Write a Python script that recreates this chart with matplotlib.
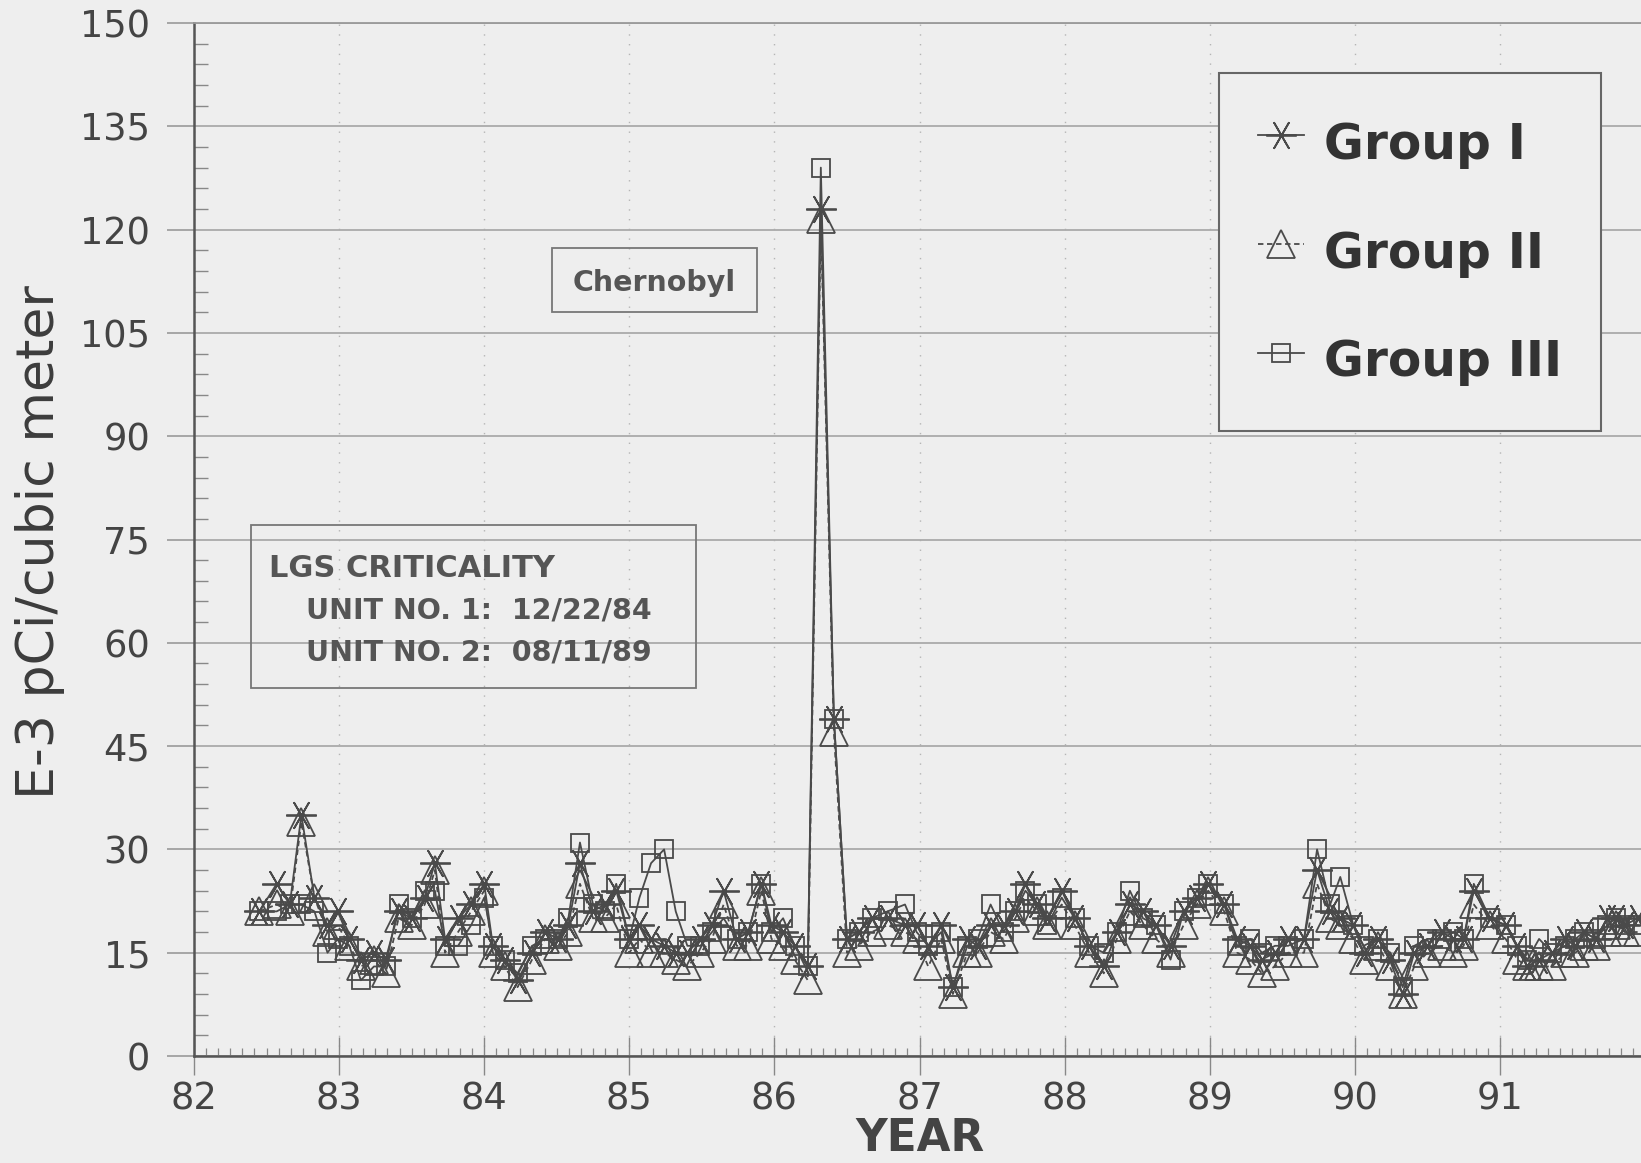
import matplotlib.pyplot as plt
from matplotlib.ticker import MultipleLocator
from matplotlib.patches import Rectangle

# sample dates (decimal year, 19xx) and concentrations, E-3 pCi/cubic meter
years = [82.45, 82.57, 82.66, 82.74, 82.83, 82.92, 82.99, 83.07, 83.15, 83.24,
         83.32, 83.41, 83.50, 83.59, 83.66, 83.73, 83.82, 83.91, 84.00, 84.06,
         84.14, 84.23, 84.33, 84.42, 84.51, 84.58, 84.66, 84.75, 84.83, 84.91,
         85.00, 85.07, 85.15, 85.24, 85.32, 85.40, 85.49, 85.57, 85.65, 85.74,
         85.82, 85.91, 85.98, 86.06, 86.14, 86.23, 86.32, 86.41, 86.50, 86.58,
         86.67, 86.78, 86.90, 86.98, 87.06, 87.15, 87.23, 87.33, 87.40, 87.49,
         87.58, 87.66, 87.73, 87.81, 87.88, 87.98, 88.07, 88.17, 88.27, 88.36,
         88.45, 88.54, 88.63, 88.73, 88.82, 88.91, 88.99, 89.10, 89.19, 89.28,
         89.36, 89.45, 89.54, 89.65, 89.74, 89.83, 89.90, 89.99, 90.06, 90.16,
         90.24, 90.33, 90.41, 90.50, 90.60, 90.68, 90.75, 90.82, 90.93, 91.04,
         91.12, 91.19, 91.27, 91.36, 91.45, 91.52, 91.58, 91.66, 91.74, 91.80,
         91.86, 91.95]

group1 = [21, 25, 22, 35, 23, 19, 21, 17, 14, 15,
          14, 21, 20, 23, 28, 17, 20, 22, 25, 16,
          14, 11, 15, 18, 17, 19, 28, 21, 22, 24,
          17, 19, 17, 16, 15, 15, 17, 19, 24, 17,
          18, 25, 19, 18, 16, 13, 123, 49, 17, 18,
          20, 20, 19, 19, 16, 19, 10, 17, 16, 19,
          19, 21, 25, 22, 20, 24, 20, 16, 13, 18,
          22, 21, 19, 16, 21, 23, 25, 22, 17, 16,
          14, 15, 17, 17, 27, 21, 20, 19, 15, 17,
          14, 9, 15, 16, 18, 17, 17, 24, 20, 19,
          16, 13, 14, 15, 17, 16, 18, 17, 20, 20,
          19, 20]

group2 = [21, 22, 21, 34, 23, 18, 19, 16, 13, 14,
          12, 20, 19, 22, 27, 15, 18, 21, 24, 15,
          13, 10, 14, 17, 16, 18, 25, 20, 20, 22,
          15, 17, 15, 15, 14, 13, 15, 17, 22, 16,
          16, 24, 17, 16, 14, 11, 121.5, 47, 15, 16,
          18, 19, 18, 17, 13, 17, 9, 15, 15, 18,
          17, 20, 23, 21, 19, 22, 19, 15, 12, 17,
          21, 19, 17, 15, 19, 22, 24, 21, 15, 14,
          12, 13, 15, 15, 25, 20, 19, 17, 14, 16,
          13, 9, 13, 15, 16, 15, 16, 22, 19, 17,
          14, 13, 13, 13, 15, 15, 16, 16, 18, 19,
          18, 18]

group3 = [21, 21, 22, 22, 21, 15, 17, 16, 11, 13,
          13, 22, 20, 24, 24, 16, 16, 19, 23, 16,
          14, 12, 16, 17, 17, 20, 31, 22, 21, 25,
          17, 23, 28, 30, 21, 16, 16, 18, 20, 17,
          18, 25, 18, 20, 16, 13, 129, 49, 17, 18,
          20, 21, 22, 18, 16, 18, 10, 16, 17, 22,
          18, 21, 24, 22, 19, 23, 20, 16, 15, 18,
          24, 20, 19, 14, 21, 23, 25, 22, 16, 17,
          15, 16, 16, 17, 30, 22, 26, 19, 16, 17,
          15, 10, 16, 17, 17, 18, 17, 25, 20, 19,
          16, 14, 17, 15, 16, 17, 18, 17, 19, 20,
          19, 19]

labels = ['Group I', 'Group II', 'Group III']

bg = '#eeeeee'
ink = '#4a4a4a'

fig = plt.figure(figsize=(16.41, 11.63), dpi=100, facecolor=bg)
ax = fig.add_axes([194 / 1641, 107 / 1163, 1451 / 1641, 1033 / 1163])
ax.set_facecolor(bg)

asterisk = (6, 2, 90)
ax.plot(years, group1, color=ink, lw=1.3, marker=asterisk, ms=22, mew=1.3,
        mfc='none', label=labels[0], zorder=3)
ax.plot(years, group2, color=ink, lw=1.3, ls=(0, (3, 2)), marker='^', ms=20,
        mew=1.3, mfc='none', label=labels[1], zorder=3)
ax.plot(years, group3, color=ink, lw=1.3, marker='s', ms=13, mew=1.3,
        mfc='none', label=labels[2], zorder=3)

ax.set_xlim(82, 92)
ax.set_ylim(0, 150)
ax.xaxis.set_major_locator(MultipleLocator(1))
ax.xaxis.set_minor_locator(MultipleLocator(1 / 12))
ax.yaxis.set_major_locator(MultipleLocator(15))
ax.yaxis.set_minor_locator(MultipleLocator(3))
ax.set_xticks(range(82, 92))

ax.grid(axis='y', which='major', color='#aaaaaa', lw=1.3)
ax.grid(axis='x', which='major', color='#b5b5b5', lw=1.0, ls=(0, (1, 6)))

ax.tick_params(axis='y', which='major', direction='out', length=19.5, width=1.2,
               color='#999999', pad=12, labelsize=26.5, labelcolor='#444444')
ax.tick_params(axis='y', which='minor', direction='in', length=10, width=1,
               color='#888888')
ax.tick_params(axis='x', which='major', direction='inout', length=27, width=1,
               color='#888888', pad=4, labelsize=26.5, labelcolor='#444444')
ax.tick_params(axis='x', which='minor', direction='in', length=6, width=0.9,
               color='#888888')

for side in ['left', 'bottom']:
    ax.spines[side].set_color('#555555')
    ax.spines[side].set_linewidth(1.8)
ax.spines['top'].set_color('#999999')
ax.spines['top'].set_linewidth(1.3)
ax.spines['right'].set_visible(False)

ax.set_xlabel('YEAR', fontsize=31.5, fontweight='bold', color='#444444', labelpad=0)
fig.text(40 / 1641, 1 - 542 / 1163, 'E-3 pCi/cubic meter', rotation=90,
         ha='center', va='center', fontsize=37.5, color='#3c3c3c')

# Chernobyl note
ax.add_patch(Rectangle((84.469, 108.0), 1.414, 9.3, fill=False,
                       edgecolor='#777777', lw=1.3, zorder=4))
ax.text(85.172, 112.3, 'Chernobyl', ha='center', va='center', fontsize=20.5,
        fontweight='bold', color='#555555', zorder=4)

# criticality note
ax.add_patch(Rectangle((82.393, 53.4), 3.069, 23.7, fill=False,
                       edgecolor='#777777', lw=1.3, zorder=4))
ax.text(82.517, 69.6, 'LGS CRITICALITY', ha='left', va='baseline',
        fontsize=22, fontweight='bold', color='#555555', zorder=4)
ax.text(82.77, 63.5, 'UNIT NO. 1:  12/22/84', ha='left', va='baseline',
        fontsize=20.5, fontweight='bold', color='#555555', zorder=4)
ax.text(82.77, 57.5, 'UNIT NO. 2:  08/11/89', ha='left', va='baseline',
        fontsize=20.5, fontweight='bold', color='#555555', zorder=4)

leg = ax.legend(loc='upper left', bbox_to_anchor=(1219 / 1641, 1 - 73 / 1163),
                bbox_transform=fig.transFigure, borderaxespad=0,
                prop={'weight': 'bold', 'size': 35}, fancybox=False,
                edgecolor='#666666', facecolor=bg, framealpha=1,
                borderpad=0.8, labelspacing=0.95, handlelength=0.95,
                handleheight=1.6, handletextpad=0.41)
leg.get_frame().set_linewidth(1.5)
leg.set_zorder(5)
for t in leg.get_texts():
    t.set_color('#333333')

plt.savefig('out.png', dpi=100, facecolor=bg)
